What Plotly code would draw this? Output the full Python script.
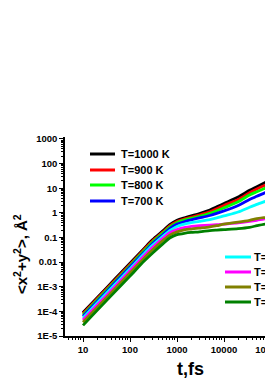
import plotly.graph_objects as go

# ---- data ----
times = [10, 20, 50, 100, 200, 300, 500, 700, 1000, 1500, 2000, 3000, 5000,
         7000, 10000, 20000, 35000, 50000, 70000, 100000, 120000]

msd_1000 = [9.0e-5, 3.6e-4, 2.25e-3, 9.0e-3, 0.036, 0.080, 0.185, 0.33, 0.50, 0.64, 0.75, 0.93, 1.30,
            1.75, 2.4, 4.4, 8.2, 11.5, 16.0, 22.5, 26.5]
msd_900 = [8.1e-5, 3.24e-4, 2.0e-3, 8.1e-3, 0.0324, 0.072, 0.165, 0.295, 0.45, 0.58, 0.67, 0.82, 1.10,
           1.45, 2.0, 3.5, 6.5, 9.2, 12.5, 16.8, 19.0]
msd_800 = [7.2e-5, 2.9e-4, 1.8e-3, 7.2e-3, 0.029, 0.064, 0.150, 0.265, 0.40, 0.52, 0.60, 0.72, 0.95,
           1.2, 1.6, 2.8, 5.3, 7.2, 9.5, 12.3, 13.8]
msd_700 = [6.3e-5, 2.5e-4, 1.6e-3, 6.3e-3, 0.025, 0.056, 0.130, 0.23, 0.35, 0.45, 0.52, 0.62, 0.78,
           0.95, 1.2, 2.0, 3.5, 4.7, 6.2, 7.9, 8.8]
msd_600 = [5.4e-5, 2.2e-4, 1.35e-3, 5.4e-3, 0.022, 0.048, 0.112, 0.19, 0.28, 0.36, 0.40, 0.45, 0.53,
           0.62, 0.75, 1.08, 1.7, 2.2, 2.8, 3.5, 4.0]
msd_500 = [4.5e-5, 1.8e-4, 1.1e-3, 4.5e-3, 0.018, 0.039, 0.092, 0.155, 0.21, 0.26, 0.28, 0.30, 0.32,
           0.33, 0.35, 0.39, 0.45, 0.50, 0.56, 0.62, 0.65]
msd_400 = [3.6e-5, 1.45e-4, 9.0e-4, 3.6e-3, 0.0145, 0.031, 0.075, 0.125, 0.17, 0.21, 0.22, 0.24, 0.27,
           0.30, 0.35, 0.42, 0.50, 0.58, 0.64, 0.66, 0.67]
msd_300 = [2.7e-5, 1.1e-4, 6.8e-4, 2.7e-3, 0.011, 0.023, 0.055, 0.095, 0.13, 0.15, 0.16, 0.17, 0.19,
           0.20, 0.21, 0.23, 0.26, 0.30, 0.34, 0.37, 0.38]

series_names = ["T=1000 K", "T=900 K", "T=800 K", "T=700 K",
                "T=600 K", "T=500 K", "T=400 K", "T=300 K"]
series_values = [msd_1000, msd_900, msd_800, msd_700, msd_600, msd_500, msd_400, msd_300]
series_colors = ["#000000", "#FF0000", "#00FF00", "#0000FF",
                 "#00FFFF", "#FF00FF", "#808000", "#008000"]

x_tickvals = [10, 100, 1000, 10000, 100000]
x_ticktext = ["10", "100", "1000", "10000", "100000"]
y_tickvals = [1e-5, 1e-4, 1e-3, 1e-2, 1e-1, 1, 10, 100, 1000]
y_ticktext = ["1E-5", "1E-4", "1E-3", "0.01", "0.1", "1", "10", "100", "1000"]

# ---- layout geometry (pixels) ----
# the page body adds an 8 px margin, so figure pixel = window pixel - 8;
# the figure is wider than the window so the plot runs off the right edge.
OFF = 8
W, H = 310, 382
ML = 65 - OFF            # y axis line at window x = 65
MT = 137 - OFF           # top of y axis at window y = 137
AXIS_BOTTOM = 336 - OFF  # x axis line at window y = 336
MR = 0
MB = H - AXIS_BOTTOM
PW, PH = W - ML - MR, H - MT - MB

X_PER_DEC = 47.0
x_lo = 1 - (83 - 65) / X_PER_DEC     # tick "10" at window x = 83
x_hi = x_lo + PW / X_PER_DEC
y_lo, y_hi = -5, 3.08


def px(xw):
    return (xw - OFF - ML) / PW


def py(yw):
    return (H - MB - (yw - OFF)) / PH


FONT = "Liberation Sans, Arial, sans-serif"

fig = go.Figure()
for name, vals, col in zip(series_names, series_values, series_colors):
    fig.add_trace(go.Scatter(x=times, y=vals, mode="lines", name=name,
                             line=dict(color=col, width=2.8, shape="spline", smoothing=0.8),
                             showlegend=False))

# manual legends (two blocks), window-pixel positions
legend_blocks = [
    (series_names[:4], series_colors[:4], 90, 115, 119, [154, 170, 185, 201]),
    (series_names[4:], series_colors[4:], 225, 251, 252, [257, 272, 287, 302]),
]
shapes, annotations = [], []
for names, cols, x0, x1, xt, rows in legend_blocks:
    for n, c, yy in zip(names, cols, rows):
        shapes.append(dict(type="line", xref="paper", yref="paper",
                           x0=px(x0), x1=px(x1), y0=py(yy), y1=py(yy),
                           line=dict(color=c, width=3)))
        annotations.append(dict(text=n, xref="paper", yref="paper", x=px(xt), y=py(yy),
                                xanchor="left", yanchor="middle", showarrow=False,
                                font=dict(family=FONT, size=11, color="black", weight="bold")))

annotations.append(dict(text="&lt;x<sup>2</sup>+y<sup>2</sup>&gt;, Å<sup>2</sup>",
                        xref="paper", yref="paper", x=px(20), y=py(254), textangle=-90,
                        xanchor="center", yanchor="middle", showarrow=False,
                        font=dict(family=FONT, size=15, color="black", weight="bold")))
annotations.append(dict(text="t,fs", xref="paper", yref="paper", x=px(190), y=py(369),
                        xanchor="center", yanchor="middle", showarrow=False,
                        font=dict(family=FONT, size=18, color="black", weight="bold")))

axis_common = dict(type="log", showgrid=False, zeroline=False, showline=True,
                   linecolor="black", linewidth=1.5, ticks="outside", ticklen=4,
                   tickwidth=1.2, tickcolor="black",
                   tickfont=dict(family=FONT, size=9.5, color="black", weight="bold"),
                   minor=dict(ticks="outside", ticklen=2, tickwidth=0.8, tickcolor="black",
                              dtick="D1", showgrid=False))

fig.update_layout(
    width=W, height=H,
    margin=dict(l=ML, r=MR, t=MT, b=MB),
    paper_bgcolor="white", plot_bgcolor="white",
    xaxis=dict(range=[x_lo, x_hi], tickvals=x_tickvals, ticktext=x_ticktext,
               ticklabeloverflow="allow", **axis_common),
    yaxis=dict(range=[y_lo, y_hi], tickvals=y_tickvals, ticktext=y_ticktext, **axis_common),
    shapes=shapes, annotations=annotations,
    showlegend=False,
)

fig.write_html("out.html")
